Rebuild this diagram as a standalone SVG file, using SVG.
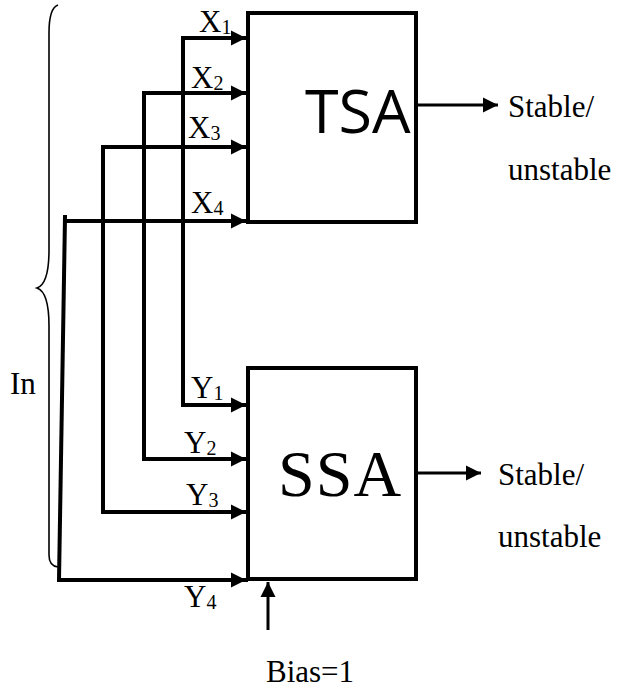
<svg xmlns="http://www.w3.org/2000/svg" width="620" height="688" viewBox="0 0 620 688">
<style>
.box{fill:#fff;stroke:#000;stroke-width:4}
.w{fill:none;stroke:#000;stroke-width:4;stroke-linejoin:miter;stroke-linecap:square}
.o{fill:none;stroke:#000;stroke-width:3}
.br{fill:none;stroke:#000;stroke-width:1.6}
.t{font-family:"Liberation Serif","Times New Roman",serif;font-size:31px;fill:#000}
.s{font-size:20px}
.big{font-family:"Liberation Serif","Times New Roman",serif;font-size:66px;fill:#000}
.sans{font-family:"Open Sans","Liberation Sans",sans-serif;font-size:61px;fill:#000}
</style>
<defs>
<marker id="ah" markerUnits="userSpaceOnUse" markerWidth="18" markerHeight="18" viewBox="0 0 18 18" refX="16" refY="9" orient="auto">
<path d="M1,1.5 L16,9 L1,16.5 Z" fill="#000"/>
</marker>
</defs>
<g id="connectors">
<path class="w" d="M183,38 V405"/>
<path class="w" d="M144,93 V459"/>
<path class="w" d="M103,147 V512"/>
<path class="w" d="M65,217 L59,580"/>
<path class="w" d="M183,38 H246" marker-end="url(#ah)"/>
<path class="w" d="M144,93 H246" marker-end="url(#ah)"/>
<path class="w" d="M103,147 H246" marker-end="url(#ah)"/>
<path class="w" d="M67,221 H246" marker-end="url(#ah)"/>
<path class="w" d="M183,405 H246" marker-end="url(#ah)"/>
<path class="w" d="M144,459 H246" marker-end="url(#ah)"/>
<path class="w" d="M103,512 H246" marker-end="url(#ah)"/>
<path class="w" d="M59,580 H246" marker-end="url(#ah)"/>
<path class="o" d="M418,105 H498" marker-end="url(#ah)"/>
<path class="o" d="M418,473 H481" marker-end="url(#ah)"/>
<path class="o" d="M268,630 V582" marker-end="url(#ah)"/>
</g>
<g id="brace">
<path class="br" d="M58,5 Q49,8 49,33 V250 Q49,284 37,288 Q49,292 49,326 V555 Q49,566 58,567"/>
<text class="t" x="10" y="394">In</text>
</g>
<g id="TSA">
<rect class="box" x="248" y="13" width="168" height="209"/>
<text class="sans" x="305" y="133">TSA</text>
</g>
<g id="SSA">
<rect class="box" x="248" y="368" width="168" height="211"/>
<text class="big" x="278" y="496" letter-spacing="1">SSA</text>
</g>
<g id="labels">
<text class="t" x="199" y="32">X<tspan class="s" dy="2">1</tspan></text>
<text class="t" x="191" y="88">X<tspan class="s" dy="2">2</tspan></text>
<text class="t" x="188" y="138">X<tspan class="s" dy="2">3</tspan></text>
<text class="t" x="191" y="213">X<tspan class="s" dy="2">4</tspan></text>
<text class="t" x="191" y="398">Y<tspan class="s" dy="2">1</tspan></text>
<text class="t" x="184" y="453">Y<tspan class="s" dy="2">2</tspan></text>
<text class="t" x="186" y="505">Y<tspan class="s" dy="2">3</tspan></text>
<text class="t" x="184" y="607">Y<tspan class="s" dy="2">4</tspan></text>
<text class="t" x="508" y="117">Stable/</text>
<text class="t" x="508" y="180">unstable</text>
<text class="t" x="498" y="485">Stable/</text>
<text class="t" x="498" y="547">unstable</text>
<text class="t" x="266" y="682">Bias=1</text>
</g>
</svg>
